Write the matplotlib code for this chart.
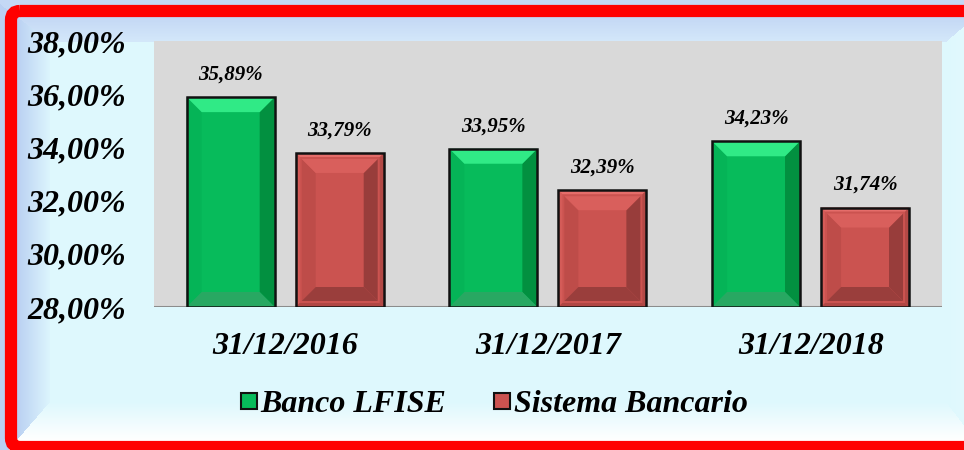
import numpy as np
import matplotlib
matplotlib.use("Agg")
import matplotlib.pyplot as plt
from matplotlib.patches import Polygon, Rectangle, FancyBboxPatch, Patch

# data
fechas = ["31/12/2016", "31/12/2017", "31/12/2018"]
banco_lfise = [35.89, 33.95, 34.23]
sistema_bancario = [33.79, 32.39, 31.74]
series_names = ["Banco LFISE", "Sistema Bancario"]
y_ticks = [28, 30, 32, 34, 36, 38]

W, H = 964, 450
plt.rcParams["font.family"] = ["Liberation Serif", "DejaVu Serif"]
plt.rcParams["font.weight"] = "bold"
plt.rcParams["font.style"] = "italic"

fig = plt.figure(figsize=(W / 100, H / 100), dpi=100)

# ---- background "room" (walls, ceiling, floor) + red frame ----
bg = fig.add_axes([0, 0, 1, 1], zorder=-10)
bg.set_xlim(0, W)
bg.set_ylim(H, 0)
bg.axis("off")

xx, yy = np.meshgrid(np.arange(W) + 0.5, np.arange(H) + 0.5)
L, T, B, R = 50, 42, 402, 946
dl = (L - xx) / (L - 17)
dt = (T - yy) / (T - 17)
db = (yy - B) / (440 - B)
dr = (xx - R) / (975 - R)
stack = np.stack([dl, dt, db, dr])
region = np.argmax(stack, axis=0)
dmax = np.clip(np.max(stack, axis=0), 0, 1)
back = np.array([222, 248, 253]) / 255

def lerp(c0, c1, t):
    c0 = np.array(c0) / 255
    c1 = np.array(c1) / 255
    return c0 + (c1 - c0) * t[..., None]

img = np.ones((H, W, 3)) * back
pairs = [((220, 245, 253), (186, 208, 242)),
         ((212, 232, 250), (196, 216, 245)),
         ((222, 248, 253), (255, 255, 255)),
         ((222, 248, 253), (228, 250, 254))]
inside = np.max(stack, axis=0) > 0
for k, (c0, c1) in enumerate(pairs):
    m = inside & (region == k)
    img[m] = lerp(c0, c1, dmax)[m]
bg.imshow(img, extent=(0, W, H, 0), interpolation="bilinear", aspect="auto")

frame = FancyBboxPatch((11, 11), 968, 436, boxstyle="round,pad=0,rounding_size=9",
                       facecolor="none", edgecolor="#FF0000", linewidth=8.8)
bg.add_patch(frame)

# ---- chart ----
ax_l, ax_t, ax_r, ax_b = 154, 41, 942, 307
ax = fig.add_axes([ax_l / W, 1 - ax_b / H, (ax_r - ax_l) / W, (ax_b - ax_t) / H])
ax.set_facecolor("#D9D9D9")
ax.set_xlim(-0.5, 2.5)
ax.set_ylim(28, 38)
for s in ax.spines.values():
    s.set_visible(False)
ax.axhline(28, color="#8C8C8C", lw=2.2, zorder=1)

px_x = (ax_r - ax_l) / 3.0   # pixels per x unit
px_y = (ax_b - ax_t) / 10.0  # pixels per y unit

x = np.arange(len(fechas))
width = 0.335
offsets = [-0.208, 0.207]

def bevel(x0, x1, y0, y1, b, colors):
    bx, by = b / px_x, b / px_y
    top = [(x0, y1), (x1, y1), (x1 - bx, y1 - by), (x0 + bx, y1 - by)]
    bot = [(x0, y0), (x1, y0), (x1 - bx, y0 + by), (x0 + bx, y0 + by)]
    left = [(x0, y0), (x0, y1), (x0 + bx, y1 - by), (x0 + bx, y0 + by)]
    right = [(x1, y0), (x1, y1), (x1 - bx, y1 - by), (x1 - bx, y0 + by)]
    for poly, c in zip([left, right, bot, top], colors):
        ax.add_patch(Polygon(poly, closed=True, facecolor=c, edgecolor="none", zorder=3))

for i in range(len(fechas)):
    # green bar
    xc = x[i] + offsets[0]
    v = banco_lfise[i]
    ax.bar(xc, v - 28, width, bottom=28, color="#07BB5B", edgecolor="none", zorder=2)
    bevel(xc - width / 2, xc + width / 2, 28, v, 15,
          ["#05B457", "#029040", "#28A862", "#30EA86"])
    ax.bar(xc, v - 28, width, bottom=28, color="none", edgecolor="#111111",
           linewidth=1.8, zorder=4)
    ax.annotate(f"{v:.2f}%".replace(".", ","), (xc, v), xytext=(0, 9),
                textcoords="offset points", ha="center", va="bottom", fontsize=15)

    # red bar
    xc = x[i] + offsets[1]
    v = sistema_bancario[i]
    ax.bar(xc, v - 28, width, bottom=28, color="#CB5350", edgecolor="none", zorder=2)
    bevel(xc - width / 2, xc + width / 2, 28, v, 4,
          ["#D45B58", "#B34946", "#B04744", "#E56D6A"])
    bevel(xc - width / 2 + 6 / px_x, xc + width / 2 - 6 / px_x, 28 + 6 / px_y, v - 6 / px_y, 14,
          ["#BE4C49", "#983D3B", "#9A3E3C", "#D95F5C"])
    ax.bar(xc, v - 28, width, bottom=28, color="none", edgecolor="#111111",
           linewidth=1.8, zorder=4)
    ax.annotate(f"{v:.2f}%".replace(".", ","), (xc, v), xytext=(0, 9),
                textcoords="offset points", ha="center", va="bottom", fontsize=15)

ax.set_xticks(x)
ax.set_xticklabels(fechas, fontsize=23)
ax.set_yticks(y_ticks)
ax.set_yticklabels([f"{t:.2f}%".replace(".", ",") for t in y_ticks], fontsize=23)
ax.tick_params(axis="x", length=0, pad=18)
ax.tick_params(axis="y", length=0, pad=20)

handles = [Patch(facecolor="#07BB5B", edgecolor="#111111", linewidth=1.5),
           Patch(facecolor="#CB5350", edgecolor="#111111", linewidth=1.5)]
fig.legend(handles, series_names, loc="center", bbox_to_anchor=(0.513, 1 - 405 / H),
           ncol=2, frameon=False, fontsize=23, handlelength=0.5, handleheight=0.4,
           handletextpad=0.12, columnspacing=1.5)

fig.savefig("out.png", dpi=100)
